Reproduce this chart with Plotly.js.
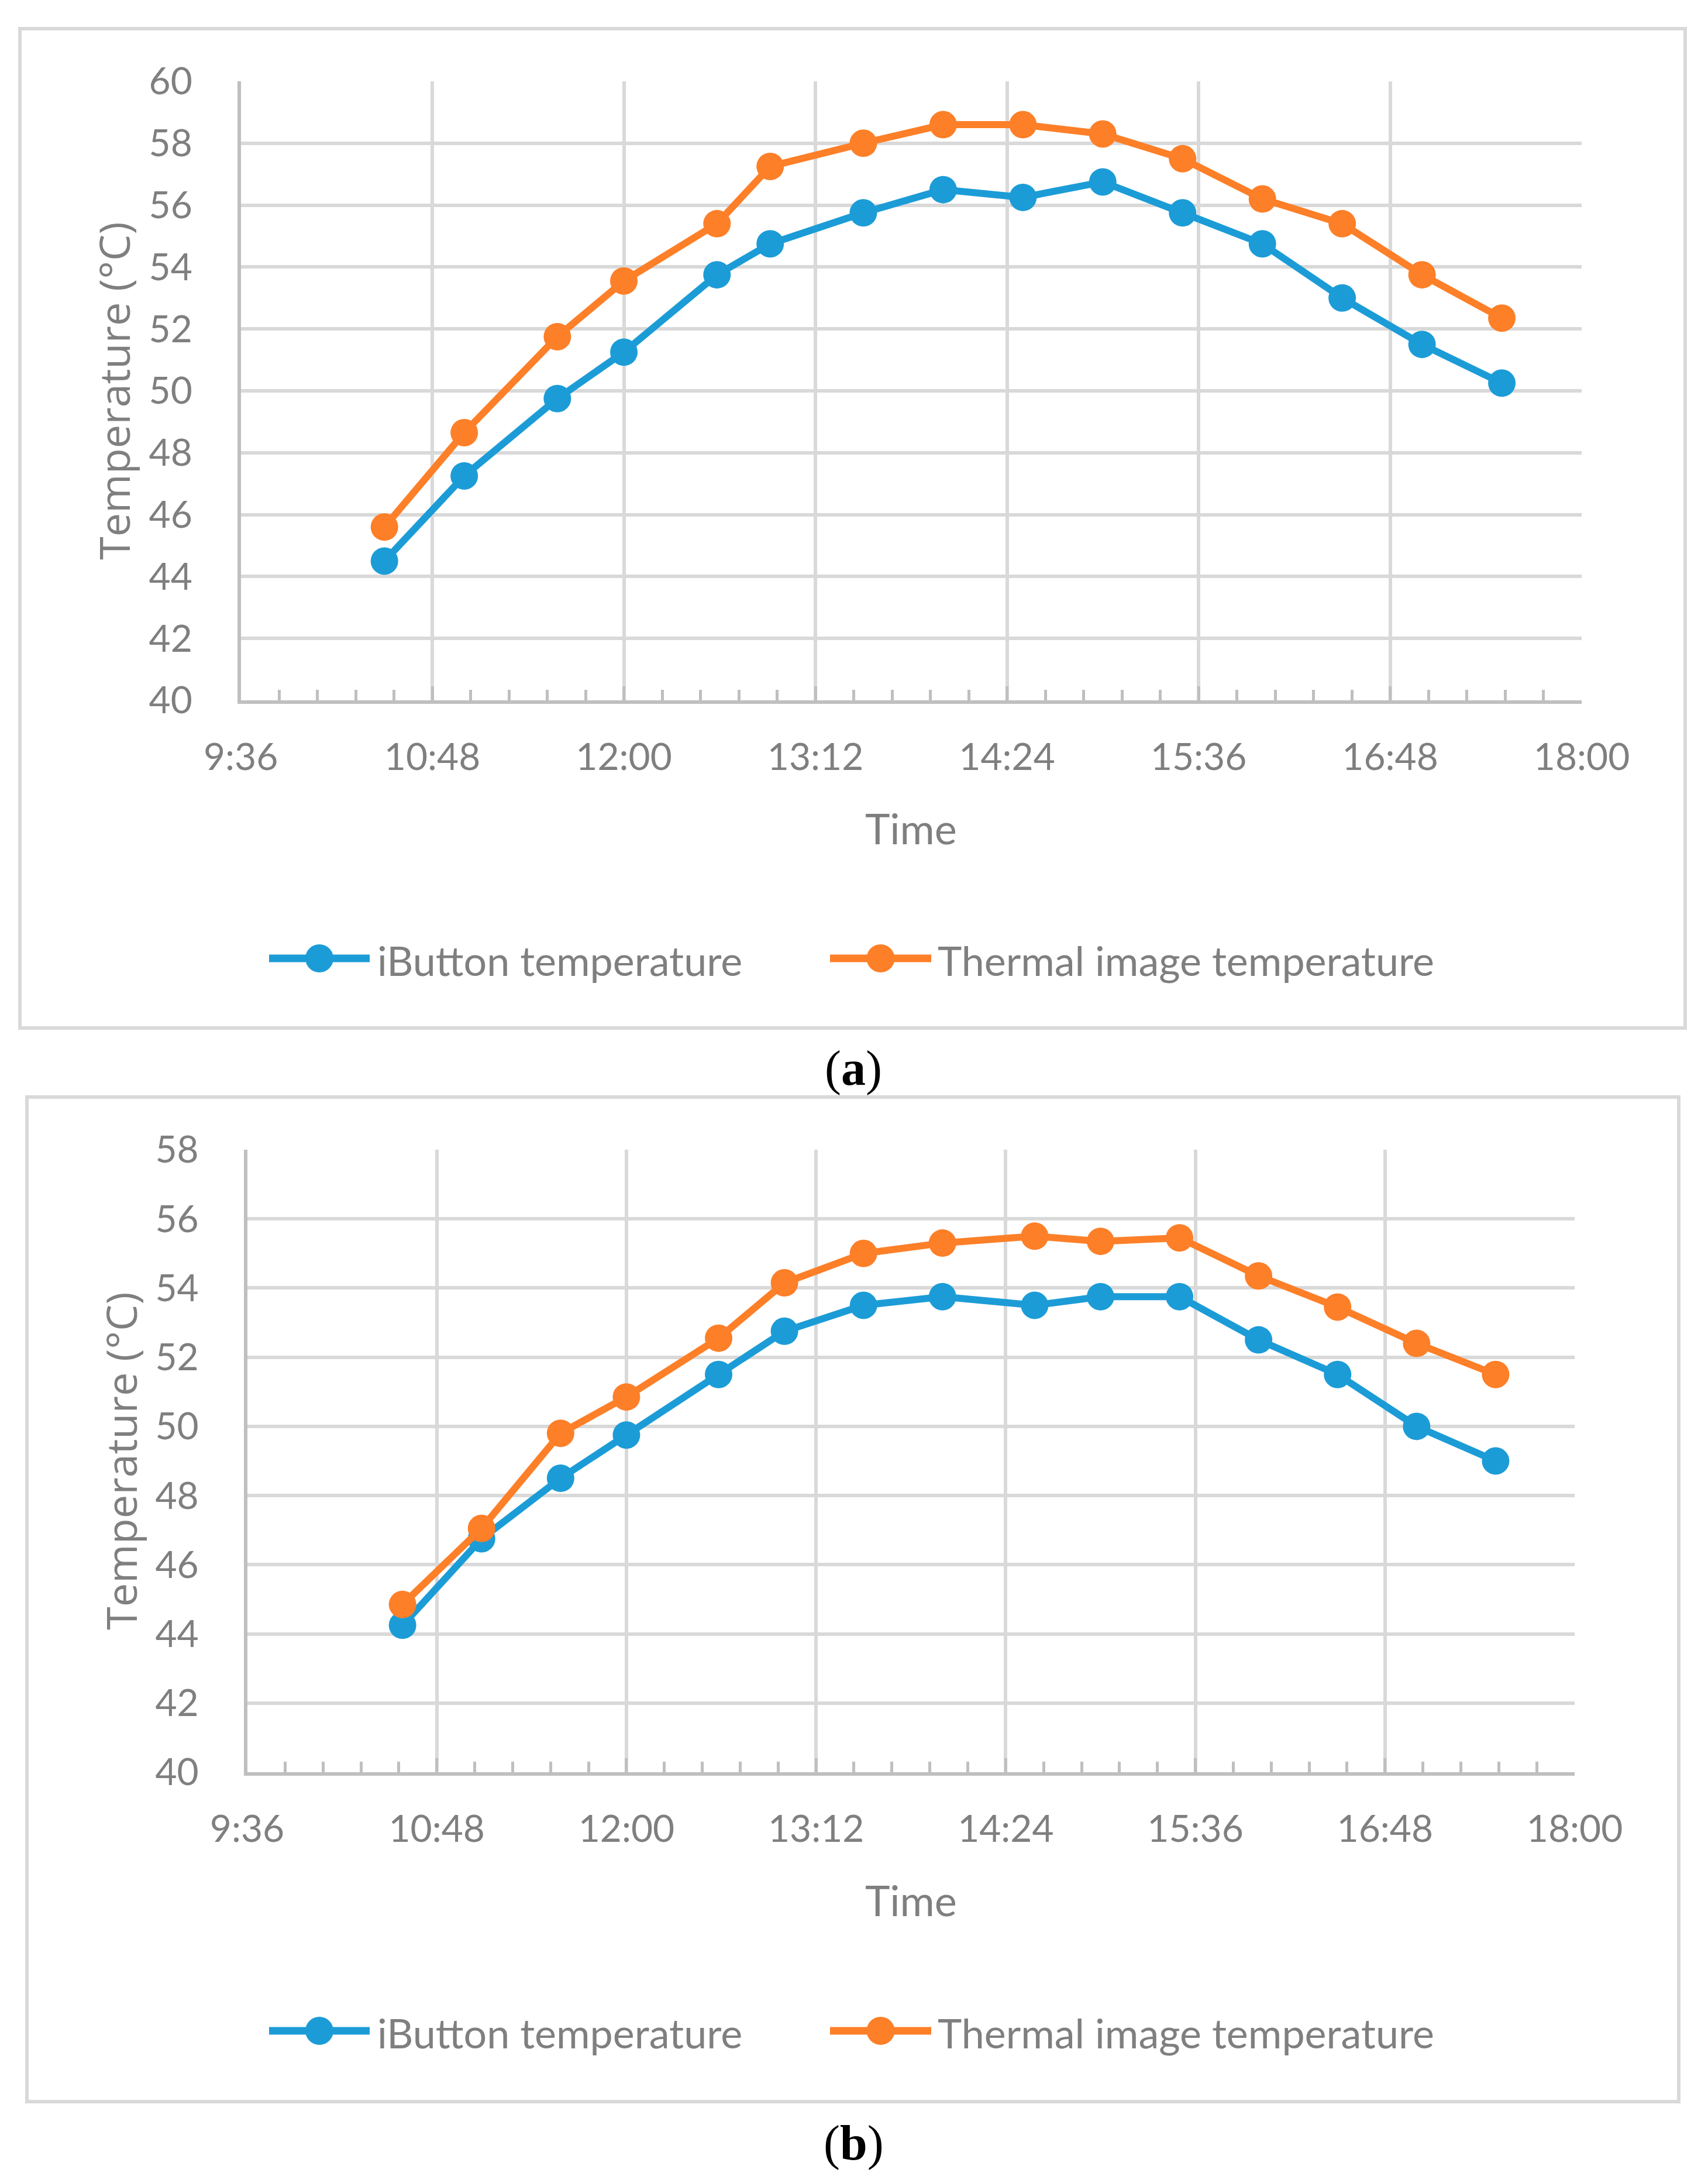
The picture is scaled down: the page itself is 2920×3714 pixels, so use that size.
<!DOCTYPE html>
<html>
<head>
<meta charset="utf-8">
<script src="https://cdn.plot.ly/plotly-3.0.1.min.js"></script>
<style>
  html, body { margin: 0; padding: 0; background: #ffffff; }
</style>
</head>
<body>
<div id="plot"></div>
<script>
// Chart (a) data
//
const timesA = ['10:30', '11:00', '11:35', '12:00', '12:35', '12:55', '13:30', '14:00',
                '14:30', '15:00', '15:30', '16:00', '16:30', '17:00', '17:30'];
const ibuttonA = [44.5, 47.25, 49.75, 51.25, 53.75, 54.75, 55.75, 56.5,
                  56.25, 56.75, 55.75, 54.75, 53.0, 51.5, 50.25];
const thermalA = [45.6, 48.65, 51.75, 53.55, 55.4, 57.25, 58.0, 58.6,
                  58.6, 58.3, 57.5, 56.2, 55.4, 53.75, 52.35];

// Chart (b) data
//
const timesB = ['10:35', '11:05', '11:35', '12:00', '12:35', '13:00', '13:30', '14:00',
                '14:35', '15:00', '15:30', '16:00', '16:30', '17:00', '17:30'];
const ibuttonB = [44.25, 46.75, 48.5, 49.75, 51.5, 52.75, 53.5, 53.75,
                  53.5, 53.75, 53.75, 52.5, 51.5, 50.0, 49.0];
const thermalB = [44.85, 47.05, 49.8, 50.85, 52.55, 54.15, 55.0, 55.3,
                  55.5, 55.35, 55.45, 54.35, 53.45, 52.4, 51.5];

const seriesNames = ['iButton temperature', 'Thermal image temperature'];
const yRangeA = [40, 60];
const yRangeB = [40, 58];
const captions = ['a', 'b'];

// page and style constants
//
const W = 2920, H = 3714;
const DAY = '2020-01-01 ';
const BLUE = '#1c9cd7', ORANGE = '#fd7f28';
const TEXT = '#7f7f7f', GRID = '#d9d9d9', AXIS = '#bfbfbf';
const FONT = 'Lato, "Open Sans", sans-serif';

// pixel boxes of each panel (frame, plot area, legend row, caption)
//
const panels = [
  { frame: [34, 49, 2881, 1757], plot: [411.6, 139, 2704, 1197],
    ytitleX: 194, legendY: 1638, captionY: 1826 },
  { frame: [46, 1875, 2870, 3592], plot: [422.5, 1965, 2692, 3029],
    ytitleX: 206, legendY: 3471, captionY: 3663 }
];

const fx = (x) => x / W;
const fy = (y) => 1 - y / H;

function toDates(times) {
  return times.map((t) => DAY + t);
}

function xAxis(i) {
  const p = panels[i].plot;
  return {
    type: 'date',
    domain: [fx(p[0]), fx(p[2])],
    range: [DAY + '09:36', DAY + '18:00'],
    tick0: DAY + '09:36',
    dtick: 72 * 60 * 1000,
    tickformat: '%-H:%M',
    ticks: 'inside',
    ticklen: 24,
    tickwidth: 5,
    tickcolor: AXIS,
    showgrid: true,
    gridcolor: GRID,
    gridwidth: 6,
    showline: true,
    linecolor: AXIS,
    linewidth: 6,
    zeroline: false,
    ticklabelstandoff: 36,
    tickfont: { family: FONT, size: 64, color: TEXT },
    minor: {
      tick0: DAY + '09:36',
      dtick: 14.4 * 60 * 1000,
      ticks: 'inside',
      ticklen: 18,
      tickwidth: 5,
      tickcolor: AXIS,
      showgrid: false
    },
    fixedrange: true
  };
}

function yAxis(i, range) {
  const p = panels[i].plot;
  return {
    domain: [fy(p[3]), fy(p[1])],
    range: range,
    dtick: 2,
    ticks: '',
    showgrid: true,
    gridcolor: GRID,
    gridwidth: 6,
    showline: true,
    linecolor: AXIS,
    linewidth: 6,
    zeroline: false,
    ticklabelstandoff: 64,
    tickfont: { family: FONT, size: 64, color: TEXT },
    fixedrange: true
  };
}

function trace(times, values, color, xa, ya) {
  return {
    x: toDates(times),
    y: values,
    xaxis: xa,
    yaxis: ya,
    type: 'scatter',
    mode: 'lines+markers',
    line: { color: color, width: 12 },
    marker: { color: color, size: 47, line: { width: 0 } },
    showlegend: false,
    hoverinfo: 'x+y'
  };
}

const data = [
  trace(timesA, ibuttonA, BLUE, 'x', 'y'),
  trace(timesA, thermalA, ORANGE, 'x', 'y'),
  trace(timesB, ibuttonB, BLUE, 'x2', 'y2'),
  trace(timesB, thermalB, ORANGE, 'x2', 'y2')
];

// frames, legend rows, titles and captions
//
const shapes = [];
const annotations = [];
const legendItems = [
  { color: BLUE, x0: 460, x1: 632, textX: 643 },
  { color: ORANGE, x0: 1419, x1: 1592, textX: 1601 }
];

panels.forEach((pan, i) => {
  const f = pan.frame, p = pan.plot;
  shapes.push({
    type: 'rect', xref: 'paper', yref: 'paper',
    x0: fx(f[0]), x1: fx(f[2]), y0: fy(f[3]), y1: fy(f[1]),
    line: { color: GRID, width: 6 }, fillcolor: 'rgba(0,0,0,0)'
  });

  legendItems.forEach((it, k) => {
    shapes.push({
      type: 'line', xref: 'paper', yref: 'paper',
      x0: fx(it.x0), x1: fx(it.x1), y0: fy(pan.legendY), y1: fy(pan.legendY),
      line: { color: it.color, width: 13 }
    });
    const cx = (it.x0 + it.x1) / 2;
    shapes.push({
      type: 'circle', xref: 'paper', yref: 'paper',
      x0: fx(cx - 24), x1: fx(cx + 24), y0: fy(pan.legendY + 24), y1: fy(pan.legendY - 24),
      line: { width: 0 }, fillcolor: it.color
    });
    annotations.push({
      xref: 'paper', yref: 'paper', x: fx(it.textX), y: fy(pan.legendY + 3),
      xanchor: 'left', yanchor: 'middle', showarrow: false,
      text: seriesNames[k],
      font: { family: FONT, size: 70, color: TEXT }
    });
  });

  annotations.push({
    xref: 'paper', yref: 'paper', x: fx((p[0] + p[2]) / 2), y: fy(p[3] + 218),
    xanchor: 'center', yanchor: 'middle', showarrow: false,
    text: 'Time',
    font: { family: FONT, size: 72, color: TEXT }
  });
  annotations.push({
    xref: 'paper', yref: 'paper', x: fx(pan.ytitleX), y: fy((p[1] + p[3]) / 2),
    xanchor: 'center', yanchor: 'middle', showarrow: false, textangle: -90,
    text: 'Temperature (°C)',
    font: { family: '"Open Sans", sans-serif', size: 72, color: TEXT }
  });
  annotations.push({
    xref: 'paper', yref: 'paper', x: fx(1459), y: fy(pan.captionY),
    xanchor: 'center', yanchor: 'middle', showarrow: false,
    text: '(<b>' + captions[i] + '</b>)',
    font: { family: '"Liberation Serif", "Times New Roman", serif', size: 84, color: '#000000' }
  });
});

const layout = {
  width: W,
  height: H,
  margin: { l: 0, r: 0, t: 0, b: 0 },
  paper_bgcolor: '#ffffff',
  plot_bgcolor: '#ffffff',
  showlegend: false,
  xaxis: xAxis(0),
  yaxis: yAxis(0, yRangeA),
  xaxis2: Object.assign(xAxis(1), { anchor: 'y2' }),
  yaxis2: Object.assign(yAxis(1, yRangeB), { anchor: 'x2' }),
  shapes: shapes,
  annotations: annotations
};
layout.xaxis.anchor = 'y';
layout.yaxis.anchor = 'x';

Plotly.newPlot('plot', data, layout, { displayModeBar: false, staticPlot: true });
</script>
</body>
</html>
